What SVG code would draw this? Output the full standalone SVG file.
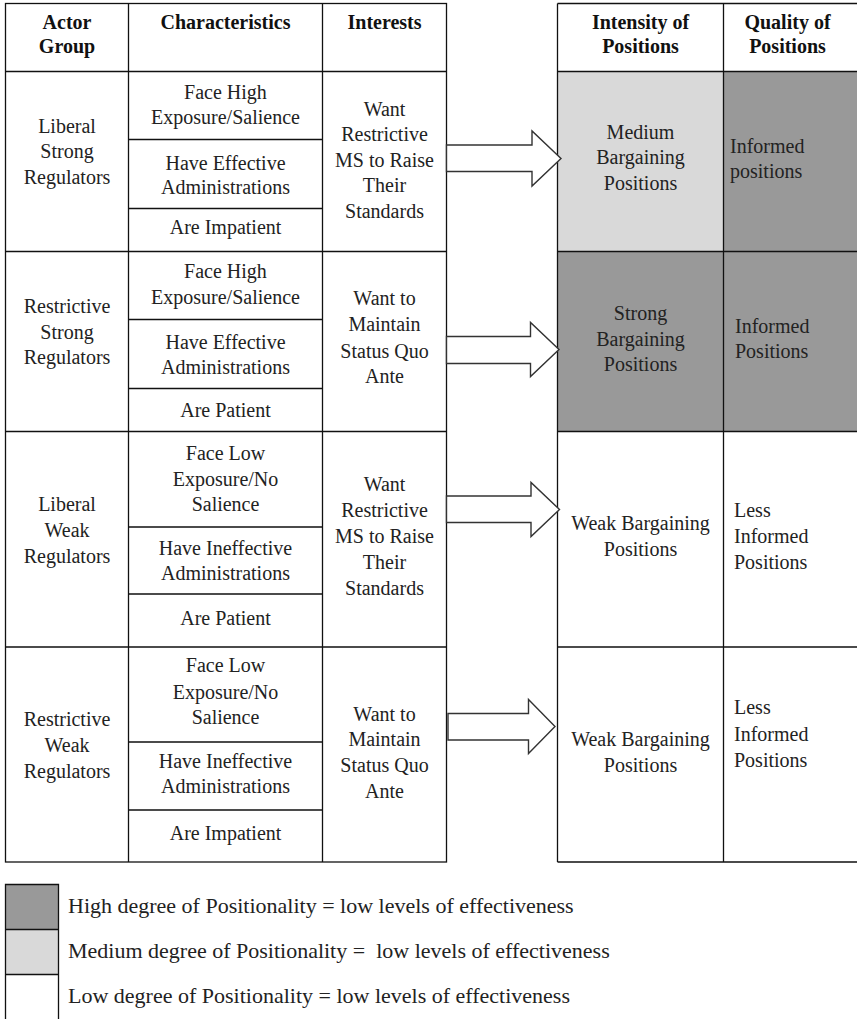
<svg xmlns="http://www.w3.org/2000/svg" width="857" height="1019" viewBox="0 0 857 1019">
<style>
.t{font-family:"Liberation Serif","Times New Roman",serif;font-size:20px;fill:#222;text-anchor:middle}
.l{text-anchor:start}
.h{font-weight:bold;fill:#111}
.lg{font-family:"Liberation Serif","Times New Roman",serif;font-size:22px;fill:#222}
.ln{stroke:#111;stroke-width:1.3;fill:none}
.dark{fill:#999999}
.light{fill:#d9d9d9}
.arrow{fill:#fff;stroke:#333;stroke-width:1.4;stroke-linejoin:miter}
</style>
<rect width="857" height="1019" fill="#fff"/>

<!-- shaded cells -->
<rect class="light" x="557.5" y="71.5" width="166" height="180"/>
<rect class="dark" x="723.5" y="71.5" width="133.5" height="180"/>
<rect class="dark" x="557.5" y="251.5" width="299.5" height="180"/>

<!-- grid lines -->
<g id="grid">
<rect class="ln" x="5.5" y="3.5" width="441" height="858.5"/>
<path class="ln" d="M128.5 3.5V862M322.5 3.5V862M5.5 71.5H446.5M5.5 251.5H446.5M5.5 431.5H446.5M5.5 647H446.5M128.5 139.5H322.5M128.5 208.5H322.5M128.5 319.5H322.5M128.5 388.5H322.5M128.5 527H322.5M128.5 594H322.5M128.5 742H322.5M128.5 810H322.5"/>
<path class="ln" d="M557.5 3.5V862M723.5 3.5V862M557.5 3.5H857M557.5 71.5H857M557.5 251.5H857M557.5 431.5H857M557.5 647H857M557.5 862H857"/>
</g>

<g id="header">
<text class="t h" x="67" y="28.5">Actor</text>
<text class="t h" x="67" y="53">Group</text>
<text class="t h" x="225.5" y="28.5">Characteristics</text>
<text class="t h" x="384.5" y="28.5">Interests</text>
<text class="t h" x="640.5" y="28.5">Intensity of</text>
<text class="t h" x="640.5" y="53">Positions</text>
<text class="t h" x="787.5" y="28.5">Quality of</text>
<text class="t h" x="787.5" y="53">Positions</text>
</g>

<g id="row1">
<text class="t" x="67" y="132.5">Liberal</text>
<text class="t" x="67" y="158">Strong</text>
<text class="t" x="67" y="184">Regulators</text>
<text class="t" x="225.5" y="99">Face High</text>
<text class="t" x="225.5" y="124">Exposure/Salience</text>
<text class="t" x="225.5" y="169.5">Have Effective</text>
<text class="t" x="225.5" y="194">Administrations</text>
<text class="t" x="225.5" y="234">Are Impatient</text>
<text class="t" x="384.5" y="115.5">Want</text>
<text class="t" x="384.5" y="141">Restrictive</text>
<text class="t" x="384.5" y="166.5">MS to Raise</text>
<text class="t" x="384.5" y="192">Their</text>
<text class="t" x="384.5" y="217.5">Standards</text>
<text class="t" x="640.5" y="138.5">Medium</text>
<text class="t" x="640.5" y="164">Bargaining</text>
<text class="t" x="640.5" y="189.5">Positions</text>
<text class="t l" x="730" y="153">Informed</text>
<text class="t l" x="730" y="178">positions</text>
</g>

<g id="row2">
<text class="t" x="67" y="313">Restrictive</text>
<text class="t" x="67" y="338.5">Strong</text>
<text class="t" x="67" y="364">Regulators</text>
<text class="t" x="225.5" y="278">Face High</text>
<text class="t" x="225.5" y="303.5">Exposure/Salience</text>
<text class="t" x="225.5" y="348.5">Have Effective</text>
<text class="t" x="225.5" y="373.5">Administrations</text>
<text class="t" x="225.5" y="416.5">Are Patient</text>
<text class="t" x="384.5" y="305">Want to</text>
<text class="t" x="384.5" y="331">Maintain</text>
<text class="t" x="384.5" y="357.5">Status Quo</text>
<text class="t" x="384.5" y="383">Ante</text>
<text class="t" x="640.5" y="320">Strong</text>
<text class="t" x="640.5" y="345.5">Bargaining</text>
<text class="t" x="640.5" y="371">Positions</text>
<text class="t l" x="735" y="332.5">Informed</text>
<text class="t l" x="735" y="357.5">Positions</text>
</g>

<g id="row3">
<text class="t" x="67" y="510.5">Liberal</text>
<text class="t" x="67" y="537">Weak</text>
<text class="t" x="67" y="563">Regulators</text>
<text class="t" x="225.5" y="460">Face Low</text>
<text class="t" x="225.5" y="486">Exposure/No</text>
<text class="t" x="225.5" y="510.5">Salience</text>
<text class="t" x="225.5" y="555">Have Ineffective</text>
<text class="t" x="225.5" y="580">Administrations</text>
<text class="t" x="225.5" y="625">Are Patient</text>
<text class="t" x="384.5" y="491">Want</text>
<text class="t" x="384.5" y="517">Restrictive</text>
<text class="t" x="384.5" y="543">MS to Raise</text>
<text class="t" x="384.5" y="569">Their</text>
<text class="t" x="384.5" y="595">Standards</text>
<text class="t" x="640.5" y="530">Weak Bargaining</text>
<text class="t" x="640.5" y="556">Positions</text>
<text class="t l" x="734" y="516.5">Less</text>
<text class="t l" x="734" y="543">Informed</text>
<text class="t l" x="734" y="569">Positions</text>
</g>

<g id="row4">
<text class="t" x="67" y="725.5">Restrictive</text>
<text class="t" x="67" y="752">Weak</text>
<text class="t" x="67" y="778">Regulators</text>
<text class="t" x="225.5" y="672">Face Low</text>
<text class="t" x="225.5" y="699">Exposure/No</text>
<text class="t" x="225.5" y="724">Salience</text>
<text class="t" x="225.5" y="767.5">Have Ineffective</text>
<text class="t" x="225.5" y="792.5">Administrations</text>
<text class="t" x="225.5" y="840">Are Impatient</text>
<text class="t" x="384.5" y="720.5">Want to</text>
<text class="t" x="384.5" y="746">Maintain</text>
<text class="t" x="384.5" y="772">Status Quo</text>
<text class="t" x="384.5" y="797.5">Ante</text>
<text class="t" x="640.5" y="746">Weak Bargaining</text>
<text class="t" x="640.5" y="771.5">Positions</text>
<text class="t l" x="734" y="714">Less</text>
<text class="t l" x="734" y="740.5">Informed</text>
<text class="t l" x="734" y="766.5">Positions</text>
</g>

<g id="connectors">
<polygon class="arrow" points="446.5,145 532,145 532,131 561,158.5 532,186 532,171.5 446.5,171.5"/>
<polygon class="arrow" points="446.5,336.5 530.5,336.5 530.5,322.5 559,349.5 530.5,376.5 530.5,363.5 446.5,363.5"/>
<polygon class="arrow" points="446.5,496 531,496 531,482.5 559.5,509.5 531,536.5 531,522.5 446.5,522.5"/>
<polygon class="arrow" points="448,713.5 528.5,713.5 528.5,699.5 555,726.5 528.5,753.5 528.5,740 448,740"/>
</g>

<g id="legend">
<rect class="dark" x="5.5" y="884.5" width="53" height="45"/>
<rect class="light" x="5.5" y="929.5" width="53" height="45"/>
<path class="ln" d="M5.5 1020V884.5H58.5V1020M5.5 929.5H58.5M5.5 974.5H58.5"/>
<text class="lg" x="68" y="913">High degree of Positionality = low levels of effectiveness</text>
<text class="lg" x="68" y="958" xml:space="preserve">Medium degree of Positionality =  low levels of effectiveness</text>
<text class="lg" x="68" y="1003">Low degree of Positionality = low levels of effectiveness</text>
</g>
</svg>
